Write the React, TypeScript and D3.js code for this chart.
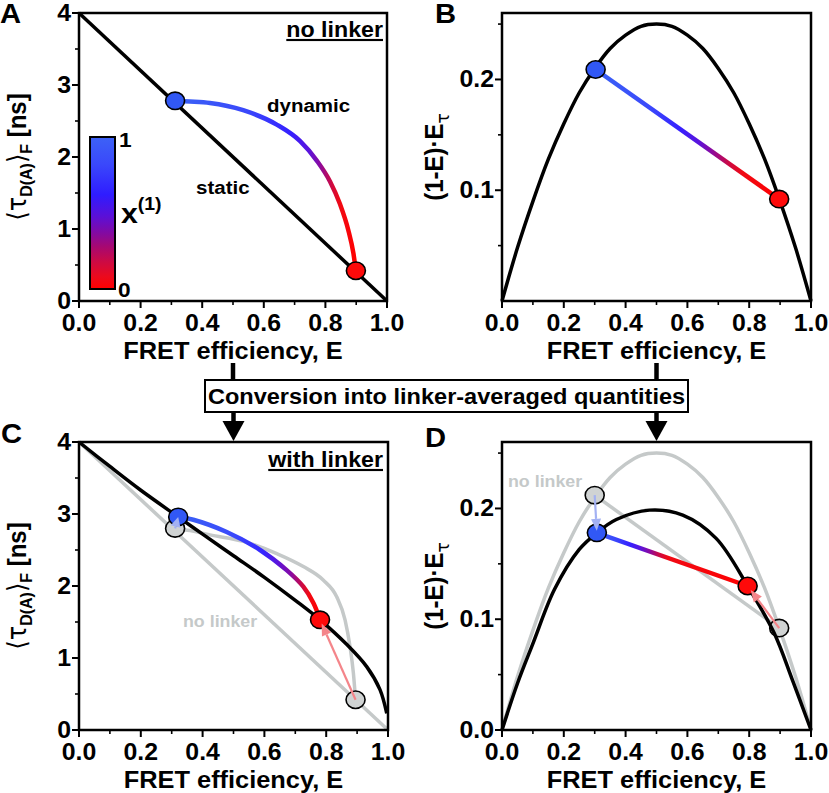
import React from "react";
import * as d3 from "d3";

const FONT = "'Liberation Sans', Arial, Helvetica, sans-serif";
const SX = 1.08;

// ---------- ticks ----------
const xMajorTicks = [0, 0.2, 0.4, 0.6, 0.8, 1.0];
const xMinorTicks = [0.1, 0.3, 0.5, 0.7, 0.9];
const tauMajorTicks = [0, 1, 2, 3, 4];
const tauMinorTicks = [0.5, 1.5, 2.5, 3.5];
const prodMajorTicksB = [0.1, 0.2];
const prodMajorTicksD = [0, 0.1, 0.2];
const prodMinorTicks = [0.05, 0.15, 0.25];

// ---------- panel A (no linker) ----------
const staticE = [0, 1];
const staticTau = [4, 0];
const dynAE = [0.312, 0.36, 0.425, 0.533, 0.642, 0.718, 0.772, 0.815, 0.847, 0.874, 0.891, 0.899];
const dynATau = [2.78, 2.77, 2.75, 2.65, 2.45, 2.22, 1.95, 1.66, 1.35, 0.99, 0.66, 0.42];
const markerAE = [0.312, 0.899];
const markerATau = [2.78, 0.42];

// ---------- panel B (no linker) ----------
const parabolaE = [0, 0.05, 0.1, 0.15, 0.2, 0.25, 0.3, 0.35, 0.4, 0.45, 0.5, 0.55, 0.6, 0.65, 0.7, 0.75, 0.8, 0.85, 0.9, 0.95, 1];
const parabolaV = [0, 0.048, 0.09, 0.128, 0.16, 0.188, 0.21, 0.228, 0.24, 0.248, 0.25, 0.248, 0.24, 0.228, 0.21, 0.188, 0.16, 0.128, 0.09, 0.048, 0];
const markerBE = [0.303, 0.897];
const markerBV = [0.209, 0.092];

// ---------- panel C (with linker) ----------
const grayDynCE = [0.311, 0.36, 0.424, 0.532, 0.64, 0.726, 0.791, 0.834, 0.861, 0.877, 0.888, 0.895];
const grayDynCTau = [2.8, 2.77, 2.71, 2.62, 2.45, 2.27, 2.08, 1.85, 1.53, 1.16, 0.79, 0.42];
const grayMarkerCE = [0.311, 0.895];
const grayMarkerCTau = [2.8, 0.42];
const linkerStaticE = [0, 0.1, 0.2, 0.321, 0.4, 0.5, 0.6, 0.7, 0.78, 0.866, 0.931, 0.974, 0.996];
const linkerStaticTau = [4, 3.66, 3.33, 2.96, 2.72, 2.42, 2.12, 1.8, 1.53, 1.19, 0.88, 0.56, 0.23];
const dynCE = [0.321, 0.37, 0.478, 0.586, 0.672, 0.726, 0.759, 0.78];
const dynCTau = [2.96, 2.92, 2.75, 2.5, 2.22, 1.99, 1.76, 1.53];
const markerCE = [0.321, 0.78];
const markerCTau = [2.96, 1.53];

// ---------- panel D (with linker) ----------
const grayMarkerDE = [0.3, 0.897];
const grayMarkerDV = [0.212, 0.092];
const linkerParabE = [0, 0.05, 0.1, 0.17, 0.25, 0.307, 0.37, 0.477, 0.585, 0.693, 0.795, 0.88, 0.94, 1];
const linkerParabV = [0, 0.042, 0.078, 0.127, 0.163, 0.178, 0.19, 0.1985, 0.194, 0.173, 0.13, 0.088, 0.045, 0];
const markerDE = [0.307, 0.795];
const markerDV = [0.178, 0.13];

// ---------- colours ----------
const BLUE = "#3158f5";
const RED = "#fe0a0a";
const GRAY = "#c5c9c9";
const GRAY_FILL = "#d0d3d3";
const ARROW_BLUE = "#a3b1f3";
const ARROW_PINK = "#f4858a";

type Stop = [number, string];
const stopsA: Stop[] = [[0, "#3a62f5"], [0.4, "#3a48fb"], [0.64, "#3520ff"], [0.74, "#5a14dc"], [0.8, "#8a0aa0"], [0.86, "#c80a48"], [0.91, "#f00a14"], [1, "#ff0000"]];
const stopsB: Stop[] = [[0, "#3a62f5"], [0.3, "#3a48fb"], [0.46, "#3520ff"], [0.56, "#5a14dc"], [0.63, "#8a0aa0"], [0.72, "#c80a48"], [0.8, "#f00a14"], [1, "#ff0000"]];
const stopsC: Stop[] = [[0, "#3a62f5"], [0.4, "#3a48fb"], [0.6, "#3525ff"], [0.7, "#5a14dc"], [0.8, "#8a0aa0"], [0.87, "#c80a48"], [0.92, "#f00a14"], [1, "#ff0000"]];
const stopsD: Stop[] = [[0, "#3a62f5"], [0.12, "#3a48fb"], [0.22, "#3520ff"], [0.29, "#5a14dc"], [0.35, "#8a0aa0"], [0.41, "#c80a48"], [0.47, "#f00a14"], [1, "#ff0000"]];
const stopsBar: Stop[] = [[0, "#3d62f6"], [0.18, "#3a48fb"], [0.38, "#2f1cff"], [0.52, "#5a10d8"], [0.62, "#7e0aa8"], [0.72, "#a60872"], [0.82, "#cc0a44"], [0.92, "#ec0a1c"], [1, "#ff0000"]];

function Txt(props: any) {
  const { x, y, size, anchor = "middle", weight = "bold", fill = "#000", rotate = false, deco, family = FONT, children } = props;
  return (
    <text
      transform={`translate(${x},${y}) scale(${SX},1)${rotate ? " rotate(-90)" : ""}`}
      fontSize={size}
      textAnchor={anchor}
      fontWeight={weight}
      fill={fill}
      fontFamily={family}
      textDecoration={deco}
    >
      {children}
    </text>
  );
}

function pathOf(xs: any, ys: any, E: number[], V: number[], curve: any = d3.curveCatmullRom) {
  const pts: [number, number][] = E.map((e, i) => [xs(e), ys(V[i])]);
  return d3.line().curve(curve)(pts) || "";
}

function Grad({ id, x1, x2, stops }: { id: string; x1: number; x2: number; stops: Stop[] }) {
  return (
    <linearGradient id={id} gradientUnits="userSpaceOnUse" x1={x1} x2={x2} y1={0} y2={0}>
      {stops.map(([o, c], i) => (
        <stop key={i} offset={o} stopColor={c} />
      ))}
    </linearGradient>
  );
}

function Marker({ cx, cy, fill }: { cx: number; cy: number; fill: string }) {
  return <ellipse cx={cx} cy={cy} rx={9.5} ry={8.7} fill={fill} stroke="#000" strokeWidth={1.6} />;
}

function Arrow({ x1, y1, x2, y2, color, gap = 3, head = 11, hw = 5 }: any) {
  const dx = x2 - x1;
  const dy = y2 - y1;
  const L = Math.hypot(dx, dy);
  const ux = dx / L;
  const uy = dy / L;
  const tx = x2 - ux * gap;
  const ty = y2 - uy * gap;
  const bx = tx - ux * head;
  const by = ty - uy * head;
  const px = -uy;
  const py = ux;
  return (
    <g>
      <line x1={x1} y1={y1} x2={bx} y2={by} stroke={color} strokeWidth={2.2} />
      <polygon points={`${tx},${ty} ${bx + px * hw},${by + py * hw} ${bx - px * hw},${by - py * hw}`} fill={color} />
    </g>
  );
}

function Axes({ xs, ys, yMajor, yMinor, yFmt }: any) {
  const [l, r] = xs.range();
  const [b, t] = ys.range();
  const fx = d3.format(".1f");
  return (
    <g>
      {xMinorTicks.map((v) => (
        <line key={"xm" + v} x1={xs(v)} x2={xs(v)} y1={b} y2={b + 4} stroke="#000" strokeWidth={1.6} />
      ))}
      {xMajorTicks.map((v) => (
        <line key={"xM" + v} x1={xs(v)} x2={xs(v)} y1={b} y2={b + 7} stroke="#000" strokeWidth={2} />
      ))}
      {xMajorTicks.map((v) => (
        <Txt key={"xl" + v} x={xs(v)} y={b + 29.5} size={23}>
          {fx(v)}
        </Txt>
      ))}
      {yMinor.map((v: number) => (
        <line key={"ym" + v} x1={l - 4} x2={l} y1={ys(v)} y2={ys(v)} stroke="#000" strokeWidth={1.6} />
      ))}
      {yMajor.map((v: number) => (
        <line key={"yM" + v} x1={l - 7} x2={l} y1={ys(v)} y2={ys(v)} stroke="#000" strokeWidth={2} />
      ))}
      {yMajor.map((v: number) => (
        <Txt key={"yl" + v} x={l - 8} y={ys(v) + 7.5} size={23} anchor="end">
          {yFmt(v)}
        </Txt>
      ))}
      <rect x={l} y={t} width={r - l} height={b - t} fill="none" stroke="#000" strokeWidth={2.5} />
      <Txt x={(l + r) / 2} y={b + 58} size={23.5}>
        FRET efficiency, E
      </Txt>
    </g>
  );
}

function TauTitle({ x, y }: { x: number; y: number }) {
  return (
    <text transform={`translate(${x},${y}) scale(${SX},1) rotate(-90)`} fontSize={24} textAnchor="middle" fontWeight="bold" fontFamily={FONT}>
      <tspan fontFamily="'DejaVu Sans'" fontWeight="normal">⟨τ</tspan>
      <tspan fontSize={16} dy={6}>D(A)</tspan>
      <tspan dy={-6} fontFamily="'DejaVu Sans'" fontWeight="normal">⟩</tspan>
      <tspan fontSize={16} dy={6}>F</tspan>
      <tspan dy={-6}> [ns]</tspan>
    </text>
  );
}

function ProdTitle({ x, y }: { x: number; y: number }) {
  return (
    <text transform={`translate(${x},${y}) scale(${SX},1) rotate(-90)`} fontSize={24} textAnchor="middle" fontWeight="bold" fontFamily={FONT}>
      <tspan>(1-E)·E</tspan>
      <tspan fontSize={17} dy={6} fontFamily="'DejaVu Sans'" fontWeight="normal">τ</tspan>
    </text>
  );
}

export default function App() {
  const xA = d3.scaleLinear().domain([0, 1]).range([79, 387]);
  const yA = d3.scaleLinear().domain([0, 4]).range([301, 13]);
  const xB = d3.scaleLinear().domain([0, 1]).range([502, 811]);
  const yB = d3.scaleLinear().domain([0, 0.26]).range([301, 13]);
  const xC = d3.scaleLinear().domain([0, 1]).range([79, 388]);
  const yC = d3.scaleLinear().domain([0, 4]).range([730, 442]);
  const xD = d3.scaleLinear().domain([0, 1]).range([502, 811]);
  const yD = d3.scaleLinear().domain([0, 0.26]).range([730, 442]);

  const fInt = d3.format("d");
  const f1 = d3.format(".1f");

  return (
    <svg width={829} height={793} style={{ position: "absolute", left: 0, top: 0, background: "#fff" }} fontFamily={FONT}>
      <defs>
        <Grad id="gA" x1={xA(markerAE[0])} x2={xA(markerAE[1])} stops={stopsA} />
        <Grad id="gB" x1={xB(markerBE[0])} x2={xB(markerBE[1])} stops={stopsB} />
        <Grad id="gC" x1={xC(markerCE[0])} x2={xC(markerCE[1])} stops={stopsC} />
        <Grad id="gD" x1={xD(markerDE[0])} x2={xD(markerDE[1])} stops={stopsD} />
        <linearGradient id="gBar" x1={0} x2={0} y1={0} y2={1}>
          {stopsBar.map(([o, c], i) => (
            <stop key={i} offset={o} stopColor={c} />
          ))}
        </linearGradient>
      </defs>
      <rect x={0} y={0} width={829} height={793} fill="#fff" />

      {/* ---------------- Panel A ---------------- */}
      <path d={pathOf(xA, yA, staticE, staticTau, d3.curveLinear)} fill="none" stroke="#000" strokeWidth={3.5} />
      <path d={pathOf(xA, yA, dynAE, dynATau, d3.curveMonotoneX)} fill="none" stroke="url(#gA)" strokeWidth={4.5} />
      <Marker cx={xA(markerAE[0])} cy={yA(markerATau[0])} fill={BLUE} />
      <Marker cx={xA(markerAE[1])} cy={yA(markerATau[1])} fill={RED} />
      <rect x={90} y={137} width={25} height={152} fill="url(#gBar)" stroke="#000" strokeWidth={2} />
      <Txt x={119} y={147} size={21} anchor="start">1</Txt>
      <Txt x={118} y={297} size={21} anchor="start">0</Txt>
      <text transform={`translate(121,223) scale(${SX},1)`} fontSize={28} fontWeight="bold" fontFamily={FONT}>
        x<tspan fontSize={18} dy={-13}>(1)</tspan>
      </text>
      <Txt x={267} y={112} size={19} anchor="start">dynamic</Txt>
      <Txt x={196} y={194} size={19} anchor="start">static</Txt>
      <Txt x={383} y={37} size={21.5} anchor="end" deco="underline">no linker</Txt>
      <Axes xs={xA} ys={yA} yMajor={tauMajorTicks} yMinor={tauMinorTicks} yFmt={fInt} />
      <TauTitle x={26} y={157} />
      <Txt x={0} y={23} size={27} anchor="start">A</Txt>

      {/* ---------------- Panel B ---------------- */}
      <path d={pathOf(xB, yB, parabolaE, parabolaV)} fill="none" stroke="#000" strokeWidth={3.5} />
      <path d={pathOf(xB, yB, markerBE, markerBV, d3.curveLinear)} fill="none" stroke="url(#gB)" strokeWidth={4.5} />
      <Marker cx={xB(markerBE[0])} cy={yB(markerBV[0])} fill={BLUE} />
      <Marker cx={xB(markerBE[1])} cy={yB(markerBV[1])} fill={RED} />
      <Axes xs={xB} ys={yB} yMajor={prodMajorTicksB} yMinor={prodMinorTicks} yFmt={f1} />
      <ProdTitle x={443} y={157} />
      <Txt x={435} y={23} size={27} anchor="start">B</Txt>

      {/* ---------------- connector ---------------- */}
      <line x1={xA(0.5)} x2={xA(0.5)} y1={363} y2={380} stroke="#000" strokeWidth={4.5} />
      <line x1={xB(0.5)} x2={xB(0.5)} y1={363} y2={380} stroke="#000" strokeWidth={4.5} />
      <line x1={xC(0.5)} x2={xC(0.5)} y1={412} y2={424} stroke="#000" strokeWidth={4.5} />
      <line x1={xD(0.5)} x2={xD(0.5)} y1={412} y2={424} stroke="#000" strokeWidth={4.5} />
      <polygon points={`${xC(0.5) - 11},421 ${xC(0.5) + 11},421 ${xC(0.5)},441`} fill="#000" />
      <polygon points={`${xD(0.5) - 11},421 ${xD(0.5) + 11},421 ${xD(0.5)},441`} fill="#000" />
      <rect x={205} y={380} width={483} height={32} fill="#fff" stroke="#000" strokeWidth={2} />
      <Txt x={446.5} y={404} size={21.8}>Conversion into linker-averaged quantities</Txt>

      {/* ---------------- Panel C ---------------- */}
      <path d={pathOf(xC, yC, staticE, staticTau, d3.curveLinear)} fill="none" stroke={GRAY} strokeWidth={3.5} />
      <path d={pathOf(xC, yC, grayDynCE, grayDynCTau, d3.curveMonotoneX)} fill="none" stroke={GRAY} strokeWidth={3.5} />
      <Marker cx={xC(grayMarkerCE[0])} cy={yC(grayMarkerCTau[0])} fill={GRAY_FILL} />
      <Marker cx={xC(grayMarkerCE[1])} cy={yC(grayMarkerCTau[1])} fill={GRAY_FILL} />
      <path d={pathOf(xC, yC, linkerStaticE, linkerStaticTau)} fill="none" stroke="#000" strokeWidth={3.5} />
      <path d={pathOf(xC, yC, dynCE, dynCTau)} fill="none" stroke="url(#gC)" strokeWidth={4.5} />
      <Marker cx={xC(markerCE[0])} cy={yC(markerCTau[0])} fill={BLUE} />
      <Marker cx={xC(markerCE[1])} cy={yC(markerCTau[1])} fill={RED} />
      <Arrow x1={xC(grayMarkerCE[0])} y1={yC(grayMarkerCTau[0])} x2={xC(markerCE[0])} y2={yC(markerCTau[0])} color={ARROW_BLUE} gap={0} head={10} hw={5} />
      <Arrow x1={xC(grayMarkerCE[1])} y1={yC(grayMarkerCTau[1])} x2={xC(markerCE[1])} y2={yC(markerCTau[1])} color={ARROW_PINK} gap={4} head={12} hw={5} />
      <Txt x={183} y={627} size={16.5} anchor="start" fill={GRAY}>no linker</Txt>
      <Txt x={383} y={467} size={21.5} anchor="end" deco="underline">with linker</Txt>
      <Axes xs={xC} ys={yC} yMajor={tauMajorTicks} yMinor={tauMinorTicks} yFmt={fInt} />
      <TauTitle x={26} y={586} />
      <Txt x={1} y={443} size={27} anchor="start">C</Txt>

      {/* ---------------- Panel D ---------------- */}
      <path d={pathOf(xD, yD, parabolaE, parabolaV)} fill="none" stroke={GRAY} strokeWidth={3.5} />
      <path d={pathOf(xD, yD, grayMarkerDE, grayMarkerDV, d3.curveLinear)} fill="none" stroke={GRAY} strokeWidth={3.5} />
      <Marker cx={xD(grayMarkerDE[0])} cy={yD(grayMarkerDV[0])} fill={GRAY_FILL} />
      <Marker cx={xD(grayMarkerDE[1])} cy={yD(grayMarkerDV[1])} fill={GRAY_FILL} />
      <path d={pathOf(xD, yD, linkerParabE, linkerParabV)} fill="none" stroke="#000" strokeWidth={3.5} />
      <path d={pathOf(xD, yD, markerDE, markerDV, d3.curveLinear)} fill="none" stroke="url(#gD)" strokeWidth={4.5} />
      <Marker cx={xD(markerDE[0])} cy={yD(markerDV[0])} fill={BLUE} />
      <Marker cx={xD(markerDE[1])} cy={yD(markerDV[1])} fill={RED} />
      <Arrow x1={xD(grayMarkerDE[0])} y1={yD(grayMarkerDV[0])} x2={xD(markerDE[0])} y2={yD(markerDV[0])} color={ARROW_BLUE} gap={2} head={12} hw={5} />
      <Arrow x1={xD(grayMarkerDE[1])} y1={yD(grayMarkerDV[1])} x2={xD(markerDE[1])} y2={yD(markerDV[1])} color={ARROW_PINK} gap={5} head={12} hw={5} />
      <Txt x={508} y={487} size={16.5} anchor="start" fill={GRAY}>no linker</Txt>
      <Axes xs={xD} ys={yD} yMajor={prodMajorTicksD} yMinor={prodMinorTicks} yFmt={f1} />
      <ProdTitle x={443} y={586} />
      <Txt x={425} y={447} size={27} anchor="start">D</Txt>
    </svg>
  );
}
